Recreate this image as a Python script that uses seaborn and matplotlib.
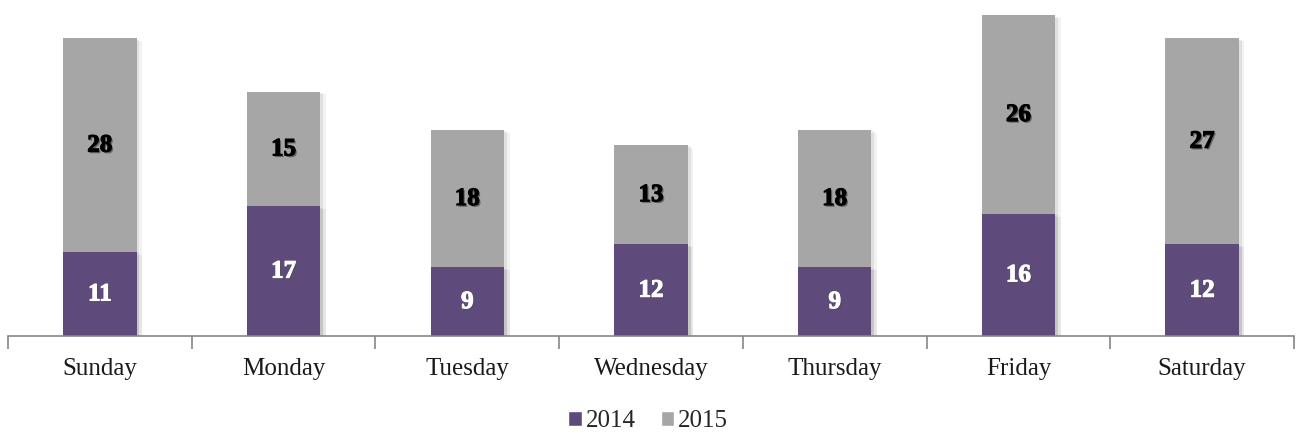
import numpy as np
import pandas as pd
import seaborn as sns
import matplotlib.pyplot as plt
import matplotlib.patheffects as pe
from matplotlib.patches import Patch

# ---------------- data ----------------
days = ['Sunday', 'Monday', 'Tuesday', 'Wednesday', 'Thursday', 'Friday', 'Saturday']
v2014 = [11, 17, 9, 12, 9, 16, 12]
v2015 = [28, 15, 18, 13, 18, 26, 27]

purple = '#5F4B7B'
grey = '#A6A6A6'

df = pd.DataFrame({'day': days, '2014': v2014, '2015': v2015})
df['total'] = df['2014'] + df['2015']

sns.set_style("white")
plt.rcParams['font.family'] = ['Liberation Serif', 'DejaVu Serif']

fig = plt.figure(figsize=(12.96, 4.33), dpi=100)
ax = fig.add_axes([8 / 1296, 97 / 433, 1286 / 1296, 336 / 433])

# soft shadow on the right of each bar
shadow = [pe.SimplePatchShadow(offset=(4, -2), shadow_rgbFace='#000000', alpha=0.05),
          pe.SimplePatchShadow(offset=(2, -1), shadow_rgbFace='#000000', alpha=0.07),
          pe.Normal()]

# grey = full stack, purple drawn over the bottom part
sns.barplot(data=df, x='day', y='total', color=grey, saturation=1, width=0.4, ax=ax)
sns.barplot(data=df, x='day', y='2014', color=purple, saturation=1, width=0.4, ax=ax)
for p in ax.patches:
    p.set_path_effects(shadow)
    p.set_edgecolor('none')

# ---------------- labels ----------------
for i, row in df.iterrows():
    ax.text(i, row['2014'] / 2, str(row['2014']), ha='center', va='center',
            color='white', fontsize=18, fontweight='bold',
            path_effects=[pe.SimplePatchShadow(offset=(1.2, -1.2), alpha=0.6),
                          pe.withStroke(linewidth=0.8, foreground='white')])
    ax.text(i, row['2014'] + row['2015'] / 2, str(row['2015']), ha='center', va='center',
            color='black', fontsize=18, fontweight='bold',
            path_effects=[pe.SimplePatchShadow(offset=(1.2, -1.2), alpha=0.4),
                          pe.withStroke(linewidth=0.8, foreground='black')])

ax.set_ylim(0, 44)
ax.set_xlim(-0.5, 6.5)
ax.set_xlabel('')
ax.set_ylabel('')
ax.set_yticks([])
for s in ['top', 'right', 'left']:
    ax.spines[s].set_visible(False)
ax.spines['bottom'].set_color('#868686')
ax.spines['bottom'].set_linewidth(1.2)

ax.set_xticks(np.arange(-0.5, 7, 1), minor=True)
ax.tick_params(axis='x', which='minor', bottom=True, length=9, color='#868686', width=1.2, direction='out')
ax.tick_params(axis='x', which='major', bottom=True, length=0, labelsize=18, pad=16, labelcolor='#1a1a1a')

handles = [Patch(facecolor=purple, label='2014'), Patch(facecolor=grey, label='2015')]
fig.legend(handles=handles, loc='center', bbox_to_anchor=(0.5, 12 / 433), ncol=2,
           frameon=False, fontsize=18, handlelength=0.55, handleheight=0.55,
           handletextpad=0.15, columnspacing=1.0, borderpad=0, borderaxespad=0)

plt.savefig('out.png', dpi=100)
plt.close()
